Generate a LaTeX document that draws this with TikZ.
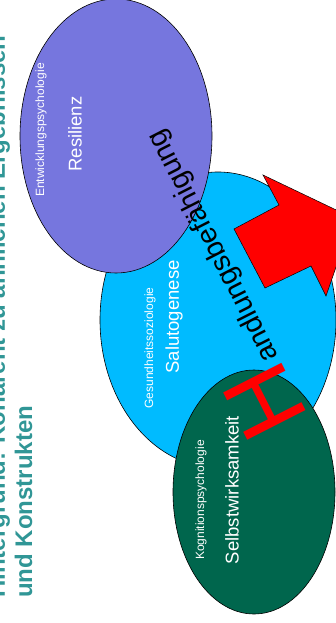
\documentclass[tikz,border=0pt]{standalone}
\usepackage{fontspec}
\setmainfont{Liberation Sans}
\definecolor{titleteal}{RGB}{48,150,150}
\definecolor{lavender}{RGB}{118,118,222}
\definecolor{skyblue}{RGB}{0,187,255}
\definecolor{darkgreen}{RGB}{0,102,77}
\begin{document}
\begin{tikzpicture}[x=1pt,y=-1pt,
  blob/.style={draw=black,line width=0.6pt},
  field/.style={text=white,rotate=90,inner sep=0pt,font=\fontsize{12}{14}\selectfont},
  concept/.style={text=white,rotate=90,inner sep=0pt,font=\fontsize{18.5}{22}\selectfont},
  headline/.style={text=titleteal,rotate=90,inner sep=0pt,anchor=base west,font=\bfseries\fontsize{24}{28}\selectfont}]
\useasboundingbox (0,0) rectangle (336,623);
\clip (0,0) rectangle (336,623);
\fill[white] (0,0) rectangle (336,623);

% two-line title, turned to read upwards
\node[headline] (t1) at (5,598) {Hintergrund: Kohärent zu ähnlichen Ergebnissen};
\node[headline] (t2) at (32,598) {und Konstrukten};

% the three research fields
\draw[blob,fill=skyblue] (218,320) ellipse [x radius=118, y radius=148];
\draw[blob,fill=lavender] (116,136) ellipse [x radius=96, y radius=137];
\draw[blob,fill=darkgreen] (254,492) ellipse [x radius=81, y radius=122];

% block arrow
\filldraw[fill=red,draw=black,line width=0.5pt]
  (263,175) -- (279,205) -- (234,229) -- (265,288) -- (311,266) -- (326,296) -- (353,218) -- cycle;

% labels inside the ellipses
\node[field] (f1) at (41,130) {Entwicklungspsychologie};
\node[concept] (c1) at (75,134) {Resilienz};
\node[field] (f2) at (150,348) {Gesundheitssoziologie};
\node[concept] (c2) at (174,317) {Salutogenese};
\node[field] (f3) at (201,500) {Kognitionspsychologie};
\node[concept] (c3) at (232,490) {Selbstwirksamkeit};

% slanted word with oversized initial
\node[rotate=117,anchor=base west,inner sep=0pt] (hb) at (310,418)
  {{\fontsize{95}{95}\selectfont\color{red}H}{\fontsize{28.5}{30}\selectfont andlungsbefähigung}};
\end{tikzpicture}
\end{document}
